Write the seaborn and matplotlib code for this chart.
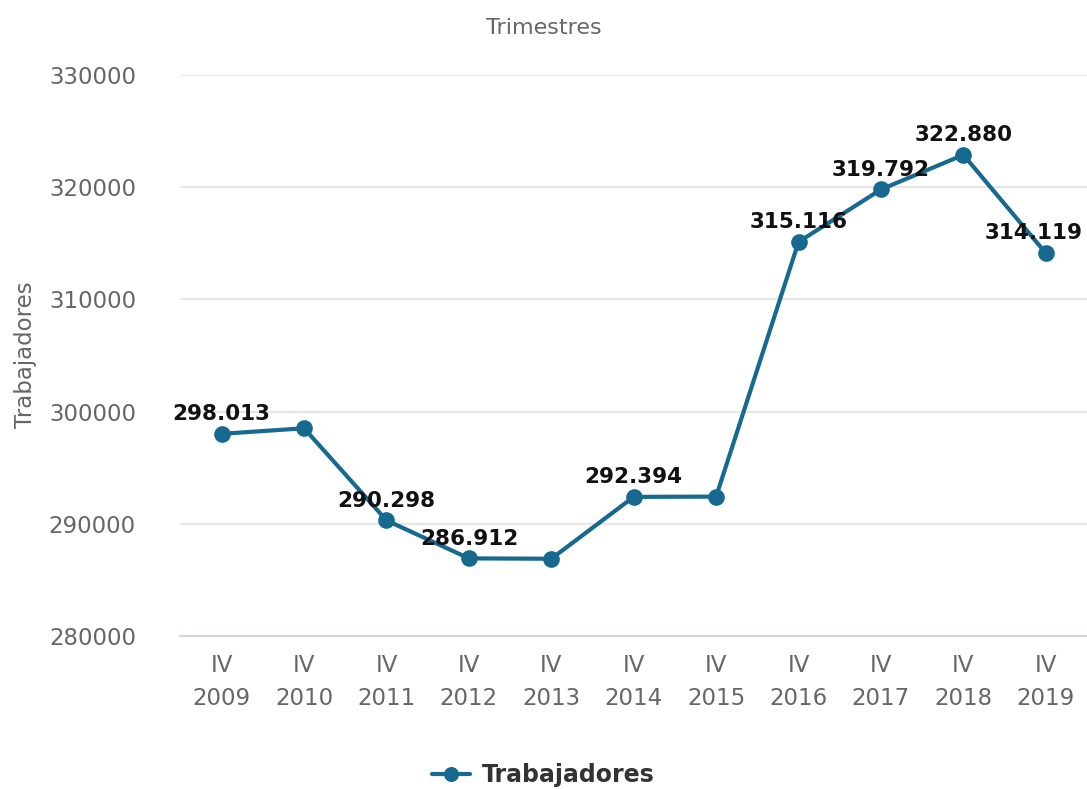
import pandas as pd
import matplotlib.pyplot as plt
import seaborn as sns

# Data
periods = ['IV\n2009', 'IV\n2010', 'IV\n2011', 'IV\n2012', 'IV\n2013', 'IV\n2014',
           'IV\n2015', 'IV\n2016', 'IV\n2017', 'IV\n2018', 'IV\n2019']
workers = [298013, 298510, 290298, 286912, 286880, 292394,
           292420, 315116, 319792, 322880, 314119]
# which points carry a value label (others are hidden in the original)
labeled = [True, False, True, True, False, True, False, True, True, True, True]

df = pd.DataFrame({'pos': range(len(periods)), 'Trabajadores': workers})

line_color = '#17698f'
text_gray = '#666666'

sns.set_style('white')
plt.rcParams['font.family'] = ['DejaVu Sans']

fig = plt.figure(figsize=(10.87, 7.89), dpi=100)
ax = fig.add_axes([0.166, 0.194, 0.834, 0.711])

sns.lineplot(data=df, x='pos', y='Trabajadores', ax=ax, color=line_color,
             linewidth=3, marker='o', markersize=12, markeredgewidth=0,
             label='Trabajadores', legend=False)

# value labels in Spanish format (dot as thousands separator)
for i, (v, show) in enumerate(zip(workers, labeled)):
    if not show:
        continue
    txt = f'{v:,}'.replace(',', '.')
    dx = -9 if i == len(workers) - 1 else 0
    ax.annotate(txt, (i, v), xytext=(dx, 7), textcoords='offset points',
                ha='center', va='bottom', fontsize=15.5, fontweight='bold',
                color='#111111')

ax.set_xlim(-0.5, len(periods) - 0.5)
ax.set_ylim(280000, 330000)
ax.set_yticks([280000, 290000, 300000, 310000, 320000, 330000])
ax.set_yticklabels(['280000', '290000', '300000', '310000', '320000', '330000'])
ax.set_xticks(range(len(periods)))
ax.set_xticklabels(periods, linespacing=1.55)

ax.tick_params(axis='both', length=0, labelsize=16.5, labelcolor=text_gray)
ax.tick_params(axis='y', pad=32)
ax.tick_params(axis='x', pad=13)
ax.yaxis.grid(True, color='#e6e6e6', linewidth=1.5)
ax.set_axisbelow(True)
for side in ['top', 'right', 'left']:
    ax.spines[side].set_visible(False)
ax.spines['bottom'].set_color('#ccd6eb')
ax.spines['bottom'].set_linewidth(1.5)

ax.set_xlabel('')
ax.set_ylabel('')
fig.text(0.5, 0.965, 'Trimestres', ha='center', va='center', fontsize=16, color=text_gray)
fig.text(0.023, 0.55, 'Trabajadores', ha='center', va='center', rotation=90,
         fontsize=16.5, color=text_gray)

handles, labels = ax.get_legend_handles_labels()
leg = fig.legend(handles, labels, loc='center', bbox_to_anchor=(0.5, 0.018),
                 frameon=False, fontsize=17, handlelength=1.6, markerscale=0.9,
                 handletextpad=0.5)
for t in leg.get_texts():
    t.set_fontweight('bold')
    t.set_color('#333333')

fig.savefig('out.png', dpi=100)
